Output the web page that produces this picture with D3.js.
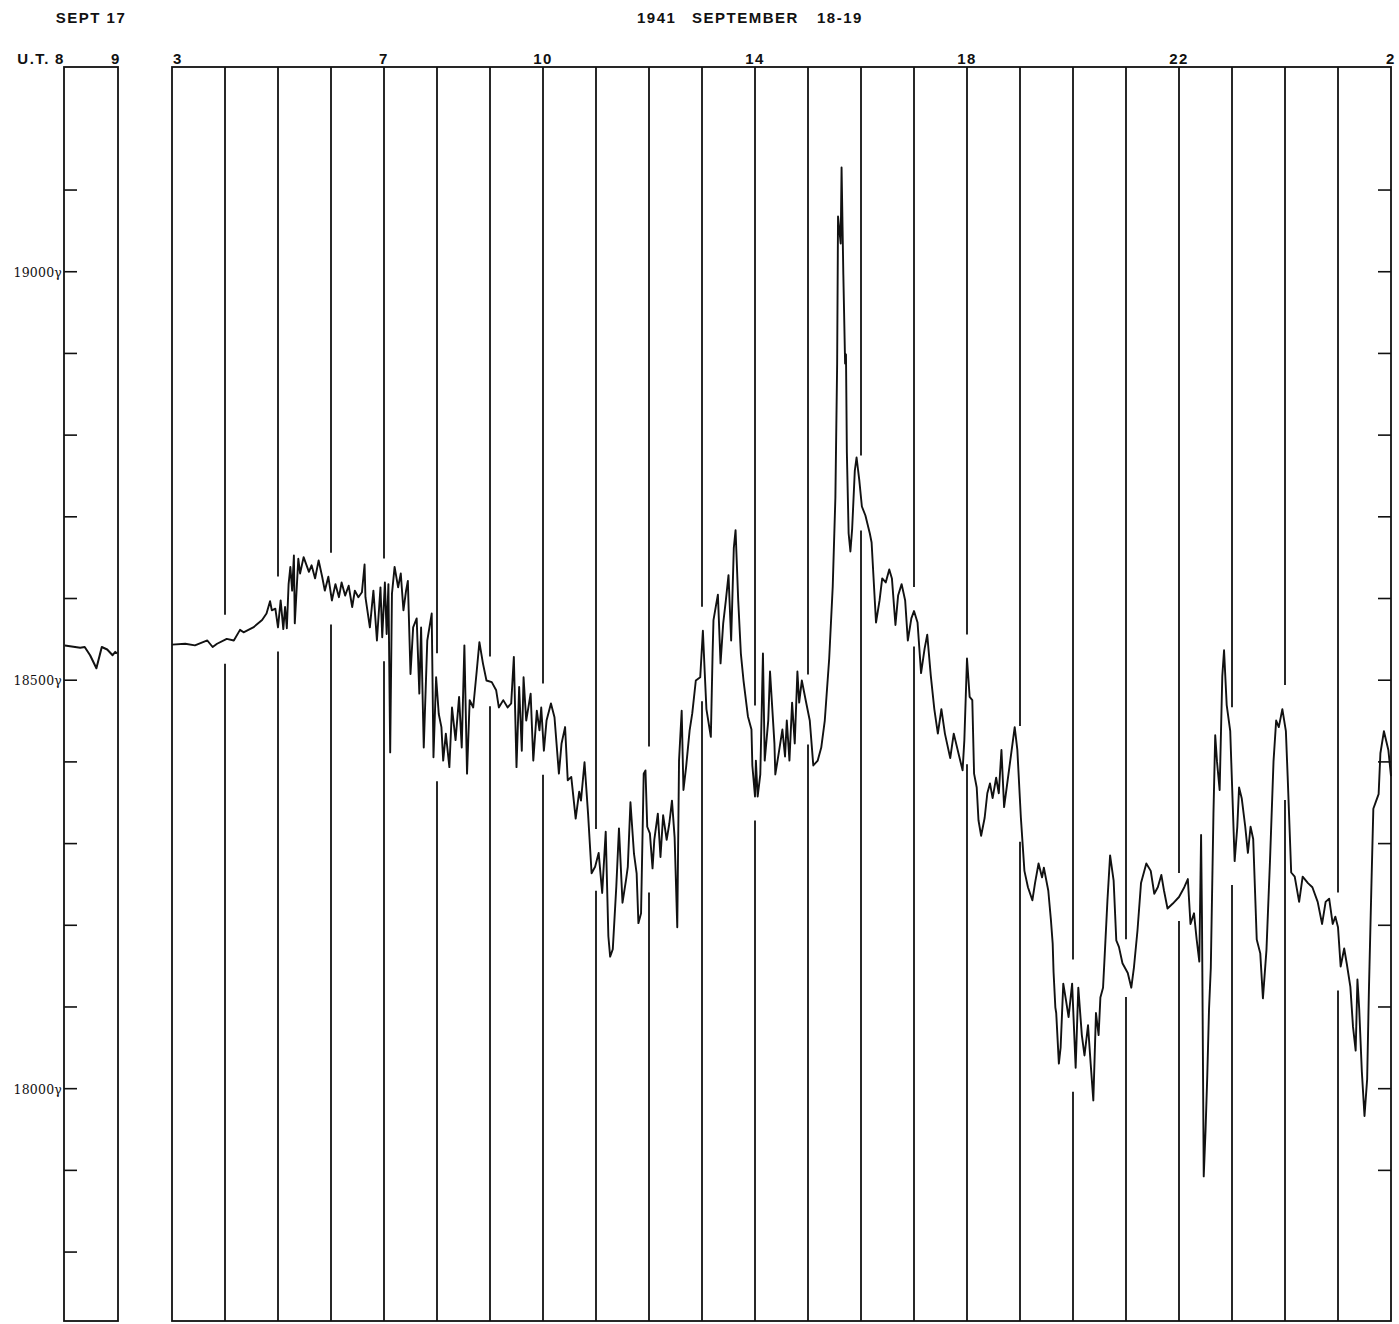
<!DOCTYPE html>
<html>
<head>
<meta charset="utf-8">
<script src="https://cdn.jsdelivr.net/npm/d3@7"></script>
<style>
  body { margin: 0; background: #fff; }
  svg { display: block; }
</style>
</head>
<body>
<script>
// Horizontal-intensity magnetogram: quiet reference hour on Sept 17 and the
// great storm of 1941 September 18-19 (03 UT to 02 UT), values in gamma.

// Sept 17, minutes after 08:00 UT
const sept17Minutes = [1, 18, 23, 29, 36, 42, 48, 54, 57, 59];
const sept17Gamma   = [18542, 18539, 18540, 18530, 18514, 18540, 18537, 18530, 18534, 18532];

// Sept 18-19, minutes after 03:00 UT
const stormMinutes = [
  0, 15, 26, 40, 46, 51, 62, 70, 77, 81, 92, 102, 107, 111, 113, 117, 120, 123, 126, 128,
  130, 132, 134, 136, 138, 139, 143, 145, 149, 155, 158, 162, 166, 170, 173, 177, 181, 185, 189, 192,
  196, 200, 204, 207, 211, 215, 218, 219, 224, 228, 232, 236, 238, 241, 243, 245, 247, 249, 252, 256,
  259, 262, 265, 267, 270, 273, 277, 280, 282, 285, 289, 294, 296, 299, 302, 305, 307, 310, 314, 317,
  321, 325, 328, 331, 334, 337, 341, 345, 348, 352, 356, 362, 367, 370, 375, 380, 384, 387, 390, 393,
  396, 398, 401, 406, 409, 413, 416, 418, 421, 424, 429, 433, 438, 441, 445, 448, 452, 457, 461, 463,
  467, 471, 475, 479, 483, 487, 491, 494, 496, 499, 503, 506, 510, 514, 516, 519, 523, 526, 528, 531,
  534, 536, 538, 541, 544, 546, 550, 553, 556, 560, 563, 566, 569, 572, 574, 577, 579, 582, 586, 589,
  593, 598, 601, 603, 605, 610, 612, 613, 616, 618, 621, 624, 627, 630, 633, 636, 638, 641, 644, 647,
  652, 656, 657, 660, 661, 663, 666, 669, 671, 675, 677, 682, 683, 687, 691, 694, 696, 699, 702, 705,
  708, 710, 713, 717, 722, 726, 731, 735, 739, 744, 748, 751, 753, 754, 757, 758, 760, 762, 763, 764,
  766, 768, 770, 773, 775, 778, 781, 785, 790, 792, 797, 801, 804, 808, 812, 815, 819, 822, 826, 830,
  833, 837, 840, 844, 848, 852, 855, 859, 863, 867, 871, 875, 881, 885, 891, 895, 897, 900, 903, 906,
  908, 911, 913, 916, 920, 923, 926, 929, 933, 936, 939, 942, 948, 954, 957, 961, 965, 969, 974, 977,
  981, 985, 987, 992, 995, 997, 998, 1000, 1001, 1004, 1006, 1009, 1012, 1015, 1019, 1023, 1026, 1030, 1033, 1037,
  1040, 1043, 1046, 1049, 1051, 1054, 1056, 1059, 1062, 1066, 1069, 1072, 1076, 1082, 1086, 1089, 1093, 1097, 1103, 1108,
  1112, 1116, 1120, 1123, 1127, 1133, 1140, 1146, 1150, 1153, 1157, 1160, 1163, 1165, 1166, 1168, 1170, 1172, 1174, 1176,
  1179, 1181, 1183, 1186, 1189, 1191, 1194, 1198, 1203, 1206, 1208, 1211, 1215, 1218, 1221, 1224, 1228, 1232, 1235, 1239,
  1243, 1247, 1250, 1253, 1257, 1261, 1263, 1267, 1271, 1276, 1280, 1286, 1291, 1297, 1302, 1306, 1310, 1314, 1317, 1320,
  1323, 1327, 1330, 1334, 1337, 1340, 1342, 1344, 1347, 1350, 1353, 1355, 1358, 1360, 1363, 1366, 1368, 1372, 1377, 1380
];
const stormGamma = [
  18543, 18544, 18542, 18548, 18540, 18544, 18550, 18548, 18561, 18558, 18564, 18573, 18581, 18596, 18585, 18587, 18564, 18597, 18562, 18589,
  18563, 18617, 18638, 18609, 18652, 18569, 18648, 18630, 18650, 18632, 18640, 18624, 18646, 18626, 18609, 18626, 18597, 18617, 18601, 18619,
  18603, 18615, 18589, 18609, 18601, 18607, 18641, 18601, 18564, 18609, 18548, 18613, 18552, 18619, 18556, 18617, 18411, 18605, 18638, 18613,
  18630, 18585, 18609, 18621, 18507, 18564, 18575, 18483, 18564, 18417, 18548, 18581, 18405, 18503, 18458, 18442, 18401, 18434, 18393, 18466,
  18426, 18479, 18417, 18542, 18385, 18475, 18466, 18511, 18546, 18520, 18499, 18497, 18487, 18466, 18475, 18466, 18471, 18528, 18393, 18491,
  18413, 18503, 18450, 18483, 18401, 18462, 18438, 18466, 18413, 18450, 18471, 18454, 18385, 18422, 18442, 18377, 18381, 18330, 18363, 18352,
  18399, 18336, 18263, 18271, 18288, 18239, 18314, 18186, 18161, 18170, 18247, 18318, 18227, 18255, 18271, 18350, 18287, 18263, 18202, 18214,
  18385, 18389, 18320, 18312, 18269, 18304, 18336, 18283, 18334, 18304, 18324, 18352, 18307, 18197, 18401, 18462, 18365, 18393, 18438, 18459,
  18499, 18503, 18560, 18511, 18464, 18430, 18532, 18573, 18592, 18604, 18520, 18569, 18597, 18628, 18548, 18661, 18683, 18597, 18532, 18499,
  18455, 18439, 18395, 18357, 18401, 18357, 18384, 18532, 18401, 18450, 18510, 18422, 18384, 18411, 18439, 18406, 18450, 18401, 18472, 18422,
  18510, 18472, 18499, 18477, 18450, 18395, 18401, 18417, 18450, 18526, 18614, 18723, 18887, 19067, 19034, 19127, 18996, 18887, 18898, 18778,
  18679, 18657, 18685, 18756, 18772, 18745, 18712, 18701, 18679, 18668, 18570, 18597, 18624, 18619, 18635, 18624, 18567, 18603, 18617, 18597,
  18548, 18575, 18584, 18570, 18508, 18538, 18555, 18505, 18464, 18434, 18464, 18434, 18404, 18434, 18407, 18389, 18426, 18526, 18479, 18475,
  18385, 18368, 18328, 18309, 18331, 18361, 18373, 18355, 18380, 18361, 18414, 18344, 18393, 18442, 18414, 18331, 18266, 18246, 18230, 18251,
  18275, 18258, 18270, 18242, 18206, 18177, 18142, 18099, 18092, 18030, 18050, 18128, 18108, 18087, 18128, 18025, 18123, 18065, 18040, 18077,
  18030, 17985, 18092, 18065, 18111, 18123, 18165, 18230, 18285, 18254, 18181, 18173, 18153, 18141, 18123, 18148, 18193, 18251, 18275, 18266,
  18238, 18246, 18261, 18242, 18220, 18226, 18234, 18246, 18256, 18201, 18214, 18182, 18155, 18310, 18210, 17892, 17947, 18015, 18097, 18147,
  18336, 18432, 18400, 18365, 18504, 18536, 18469, 18437, 18278, 18320, 18368, 18355, 18320, 18288, 18320, 18305, 18182, 18165, 18110, 18169,
  18278, 18400, 18450, 18442, 18464, 18437, 18382, 18264, 18259, 18228, 18259, 18251, 18246, 18228, 18201, 18228, 18232, 18201, 18210, 18197,
  18149, 18171, 18152, 18124, 18075, 18046, 18133, 18097, 18020, 17966, 18011, 18120, 18256, 18342, 18351, 18360, 18410, 18437, 18414, 18382
];

// Hour labels along the top (offset in hours from 03 UT)
const hourTickOffsets = [0, 4, 7, 11, 15, 19, 23];
const hourTickLabels  = ["3", "7", "10", "14", "18", "22", "2"];
const sept17HourLabels = ["8", "9"];

// Scale ticks in gamma
const leftTicks    = [17800, 17900, 18000, 18100, 18200, 18300, 18400, 18500, 18600, 18700, 18800, 18900, 19000, 19100];
const labeledTicks = [18000, 18500, 19000];
const rightTicks   = [17900, 18000, 18100, 18200, 18300, 18400, 18500, 18600, 18700, 18800, 18900, 19000, 19100];

const W = 1399, H = 1324;
const plotTop = 67, plotBottom = 1321;
const ink = "#111";

const svg = d3.select("body").append("svg")
  .attr("width", W).attr("height", H)
  .style("font-family", "'Liberation Sans', Arial, sans-serif");

const y  = d3.scaleLinear().domain([17715, 19250]).range([plotBottom, plotTop]);
const x  = d3.scaleLinear().domain([0, 1380]).range([172, 1391]);
const xL = d3.scaleLinear().domain([0, 60]).range([64, 118]);

const line = (xs) => d3.line()
  .x(d => xs(d.m))
  .y(d => y(d.g))
  .curve(d3.curveLinear);

const sept17 = sept17Minutes.map((m, i) => ({ m, g: sept17Gamma[i] }));
const storm  = stormMinutes.map((m, i) => ({ m, g: stormGamma[i] }));

// ---- Frames --------------------------------------------------------------
function frame(x0, x1) {
  svg.append("rect")
    .attr("x", x0).attr("y", plotTop)
    .attr("width", x1 - x0).attr("height", plotBottom - plotTop)
    .attr("fill", "none").attr("stroke", ink).attr("stroke-width", 1.8);
}
frame(xL(0), xL(60));
frame(x(0), x(1380));

// ---- Hourly lines, broken where the trace crosses -------------------------
const interp = (m0) => {
  const i = d3.bisector(d => d.m).left(storm, m0);
  if (i <= 0) return storm[0].g;
  if (i >= storm.length) return storm[storm.length - 1].g;
  const a = storm[i - 1], b = storm[i];
  return a.g + (b.g - a.g) * (m0 - a.m) / (b.m - a.m);
};
const hourLines = d3.range(1, 23).map(i => i * 60);
const hl = svg.append("g").attr("stroke", ink).attr("stroke-width", 1.8);
hourLines.forEach(m0 => {
  const ys = storm.filter(d => Math.abs(d.m - m0) <= 4).map(d => y(d.g));
  ys.push(y(interp(m0)));
  const g0 = d3.min(ys) - 24, g1 = d3.max(ys) + 24;
  const xp = x(m0);
  hl.append("line").attr("x1", xp).attr("x2", xp).attr("y1", plotTop).attr("y2", g0);
  hl.append("line").attr("x1", xp).attr("x2", xp).attr("y1", g1).attr("y2", plotBottom);
});

// ---- Gamma scale ticks ---------------------------------------------------
const leftAxis = d3.axisLeft(y)
  .tickValues(leftTicks)
  .tickSizeInner(-13).tickSizeOuter(0).tickPadding(2)
  .tickFormat(v => labeledTicks.includes(v) ? v + "γ" : "");
const la = svg.append("g").attr("transform", `translate(${xL(0)},0)`).call(leftAxis);
la.select(".domain").remove();
la.selectAll(".tick line").attr("stroke", ink).attr("stroke-width", 1.6);
la.selectAll(".tick text")
  .attr("fill", ink)
  .attr("dy", "0.4em")
  .style("font-family", "'DejaVu Serif', serif")
  .style("font-size", "12.5px")
  .style("letter-spacing", "0.2px");

const rightAxis = d3.axisRight(y)
  .tickValues(rightTicks)
  .tickSizeInner(-13).tickSizeOuter(0)
  .tickFormat("");
const ra = svg.append("g").attr("transform", `translate(${x(1380)},0)`).call(rightAxis);
ra.select(".domain").remove();
ra.selectAll(".tick line").attr("stroke", ink).attr("stroke-width", 1.6);

// ---- Traces --------------------------------------------------------------
svg.append("path").datum(sept17)
  .attr("d", line(xL))
  .attr("fill", "none").attr("stroke", ink)
  .attr("stroke-width", 2).attr("stroke-linejoin", "round");

svg.append("path").datum(storm)
  .attr("d", line(x))
  .attr("fill", "none").attr("stroke", ink)
  .attr("stroke-width", 1.9).attr("stroke-linejoin", "round");

// ---- Header text ---------------------------------------------------------
const hdr = (t, xp, yp, anchor) => svg.append("text")
  .attr("x", xp).attr("y", yp)
  .attr("text-anchor", anchor)
  .attr("fill", ink)
  .style("font-weight", "bold")
  .style("font-size", "15px")
  .style("letter-spacing", "1.5px")
  .text(t);

hdr("SEPT 17", (xL(0) + xL(60)) / 2, 23, "middle");
hdr("1941", 637, 23, "start");
hdr("SEPTEMBER", 692, 23, "start");
hdr("18-19", 817, 23, "start");

hdr("U.T.", 50, 64, "end");
hdr(sept17HourLabels[0], xL(0) - 4, 64, "middle");
hdr(sept17HourLabels[1], xL(60) - 2, 64, "middle");

hourTickOffsets.forEach((h, i) => {
  const anchor = i === 0 ? "start" : "middle";
  hdr(hourTickLabels[i], x(h * 60) + (i === 0 ? 1 : 0), 64, anchor);
});
</script>
</body>
</html>
